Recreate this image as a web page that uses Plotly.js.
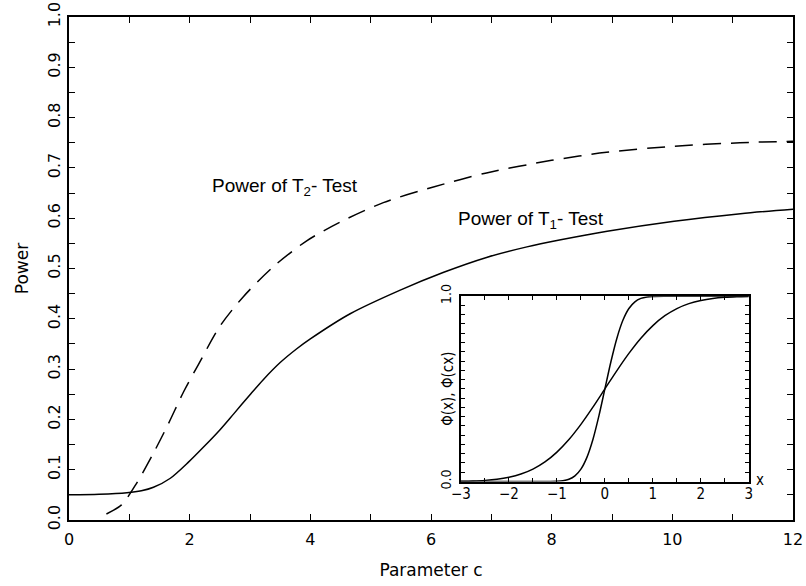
<!DOCTYPE html>
<html>
<head>
<meta charset="utf-8">
<script src="https://cdn.plot.ly/plotly-3.0.1.min.js"></script>
<style>html,body{margin:0;padding:0;background:#fff;}#chart{width:806px;height:586px;}</style>
</head>
<body>
<div id="chart"></div>
<script>
// Main plot: power curves
const cT1 = [0.0, 0.5, 0.96, 1.2, 1.4, 1.68, 1.98, 2.23, 2.5, 2.73, 3.0, 3.22, 3.5, 3.77, 4.0, 4.66, 5.49, 6.2, 6.92, 7.59, 8.15, 8.92, 10.03, 11.13, 12.0];
const powerT1 = [0.050, 0.051, 0.054, 0.058, 0.065, 0.083, 0.115, 0.145, 0.179, 0.211, 0.249, 0.279, 0.313, 0.340, 0.360, 0.410, 0.457, 0.492, 0.522, 0.543, 0.557, 0.574, 0.594, 0.609, 0.618];
const cT2 = [0.62, 0.87, 1.12, 1.4, 1.65, 1.9, 2.14, 2.5, 2.89, 3.39, 3.94, 4.49, 5.21, 6.04, 6.92, 8.0, 8.91, 10.02, 11.12, 12.0];
const powerT2 = [0.012, 0.030, 0.073, 0.133, 0.192, 0.255, 0.308, 0.385, 0.444, 0.504, 0.555, 0.592, 0.631, 0.662, 0.690, 0.715, 0.731, 0.743, 0.750, 0.753];

// Inset: Phi(x) and Phi(cx)
const insetX = [-3, -2.75, -2.5, -2.25, -2, -1.75, -1.5, -1.25, -1, -0.75, -0.5, -0.25, 0, 0.25, 0.5, 0.75, 1, 1.25, 1.5, 1.75, 2, 2.25, 2.5, 2.75, 3];
const phiX = [0.0013, 0.0030, 0.0062, 0.0122, 0.0228, 0.0401, 0.0668, 0.1056, 0.1587, 0.2266, 0.3085, 0.4013, 0.5, 0.5987, 0.6915, 0.7734, 0.8413, 0.8944, 0.9332, 0.9599, 0.9772, 0.9878, 0.9938, 0.9970, 0.9987];
const insetXc = [-3, -1.25, -1, -0.875, -0.75, -0.625, -0.5, -0.375, -0.25, -0.125, 0, 0.125, 0.25, 0.375, 0.5, 0.625, 0.75, 0.875, 1, 1.25, 3];
const phiCX = [0.0, 0.0001, 0.0013, 0.0043, 0.0122, 0.0304, 0.0668, 0.1303, 0.2266, 0.3538, 0.5, 0.6462, 0.7734, 0.8697, 0.9332, 0.9696, 0.9878, 0.9957, 0.9987, 0.9999, 1.0];

// Tick labels
const mainXTickVals = [0,1,2,3,4,5,6,7,8,9,10,11,12];
const mainXTickText = ['0','','2','','4','','6','','8','','10','','12'];
const mainYTickVals = [0,0.05,0.1,0.15,0.2,0.25,0.3,0.35,0.4,0.45,0.5,0.55,0.6,0.65,0.7,0.75,0.8,0.85,0.9,0.95,1.0];
const mainYTickText = ['0.0','','0.1','','0.2','','0.3','','0.4','','0.5','','0.6','','0.7','','0.8','','0.9','','1.0'];
const insetXTickVals = [-3,-2.5,-2,-1.5,-1,-0.5,0,0.5,1,1.5,2,2.5,3];
const insetXTickText = ['\u22123','','\u22122','','\u22121','','0','','1','','2','','3'];
const insetYTickVals = [0,0.05,0.1,0.15,0.2,0.25,0.3,0.35,0.4,0.45,0.5,0.55,0.6,0.65,0.7,0.75,0.8,0.85,0.9,0.95,1.0];
const insetYTickText = ['0.0','','','','','','','','','','','','','','','','','','','','1.0'];

const labelT2 = 'Power of T<sub>2</sub>- Test';
const labelT1 = 'Power of T<sub>1</sub>- Test';
const xTitle = 'Parameter c';
const yTitle = 'Power';
const insetYTitle = '\u03A6(x), \u03A6(cx)';
const insetXTitle = 'x';

const mainFont = 'DejaVu Sans, sans-serif';
const insetFont = 'DejaVu Sans Condensed, Liberation Sans Narrow, DejaVu Sans, sans-serif';
const labelFont = 'Liberation Sans, Arial, sans-serif';

const traces = [
  {x: cT1, y: powerT1, mode: 'lines', line: {color: '#000', width: 1.5, shape: 'spline', smoothing: 0.8}, xaxis: 'x', yaxis: 'y', hoverinfo: 'skip'},
  {x: cT2, y: powerT2, mode: 'lines', line: {color: '#000', width: 1.5, dash: '18px,10px', shape: 'spline', smoothing: 0.8}, xaxis: 'x', yaxis: 'y', hoverinfo: 'skip'},
  {x: insetX, y: phiX, mode: 'lines', line: {color: '#000', width: 1.5, shape: 'spline', smoothing: 0.8}, xaxis: 'x2', yaxis: 'y2', hoverinfo: 'skip'},
  {x: insetXc, y: phiCX, mode: 'lines', line: {color: '#000', width: 1.5, shape: 'spline', smoothing: 0.8}, xaxis: 'x2', yaxis: 'y2', hoverinfo: 'skip'}
];

const layout = {
  width: 806, height: 586,
  margin: {l: 69, r: 13, t: 17, b: 66},
  paper_bgcolor: '#fff', plot_bgcolor: '#fff',
  showlegend: false,
  xaxis: {
    domain: [0, 1], range: [0, 12], showgrid: false, zeroline: false,
    showline: true, linewidth: 2, linecolor: '#000', mirror: 'ticks',
    ticks: 'inside', ticklen: 6, tickwidth: 1, tickcolor: '#000',
    tickmode: 'array', tickvals: mainXTickVals, ticktext: mainXTickText,
    tickfont: {family: mainFont, size: 16, color: '#000'},
    ticklabelstandoff: 4,
    title: {text: xTitle, font: {family: mainFont, size: 17, color: '#000'}, standoff: 16}
  },
  yaxis: {
    domain: [0, 1], range: [0, 1], showgrid: false, zeroline: false,
    showline: true, linewidth: 2, linecolor: '#000', mirror: 'ticks',
    ticks: 'inside', ticklen: 6, tickwidth: 1, tickcolor: '#000',
    tickmode: 'array', tickvals: mainYTickVals, ticktext: mainYTickText,
    tickangle: -90,
    tickfont: {family: mainFont, size: 16, color: '#000'},
    ticklabelstandoff: 1,
    title: {text: yTitle, font: {family: mainFont, size: 17, color: '#000'}, standoff: 12}
  },
  xaxis2: {
    domain: [0.5414, 0.939], anchor: 'y2', range: [-3, 3], showgrid: false, zeroline: false,
    showline: true, linewidth: 2, linecolor: '#000', mirror: 'ticks',
    ticks: 'inside', ticklen: 4, tickwidth: 1, tickcolor: '#000',
    tickmode: 'array', tickvals: insetXTickVals, ticktext: insetXTickText,
    tickfont: {family: insetFont, size: 15, color: '#000'},
    ticklabelstandoff: -3
  },
  yaxis2: {
    domain: [0.0765, 0.445], anchor: 'x2', range: [0, 1], showgrid: false, zeroline: false,
    showline: true, linewidth: 2, linecolor: '#000', mirror: 'ticks',
    ticks: 'inside', ticklen: 4, tickwidth: 1, tickcolor: '#000',
    tickmode: 'array', tickvals: insetYTickVals, ticktext: insetYTickText,
    tickangle: -90,
    tickfont: {family: insetFont, size: 14, color: '#000'},
    ticklabelstandoff: 2
  },
  annotations: [
    {text: labelT2, x: 3.58, y: 0.663, xref: 'x', yref: 'y', showarrow: false, font: {family: labelFont, size: 19, color: '#000'}},
    {text: labelT1, x: 7.66, y: 0.597, xref: 'x', yref: 'y', showarrow: false, font: {family: labelFont, size: 19, color: '#000'}},
    {text: insetXTitle, x: 3, y: 0, xref: 'x2', yref: 'y2', xanchor: 'left', yanchor: 'middle', xshift: 5, yshift: 2, showarrow: false, font: {family: insetFont, size: 15, color: '#000'}},
    {text: insetYTitle, x: 0, y: 0.5, xref: 'x2 domain', yref: 'y2 domain', xanchor: 'center', yanchor: 'middle', xshift: -13, textangle: -90, showarrow: false, font: {family: insetFont, size: 15, color: '#000'}}
  ]
};

Plotly.newPlot('chart', traces, layout, {staticPlot: true, displayModeBar: false});
</script>
</body>
</html>
